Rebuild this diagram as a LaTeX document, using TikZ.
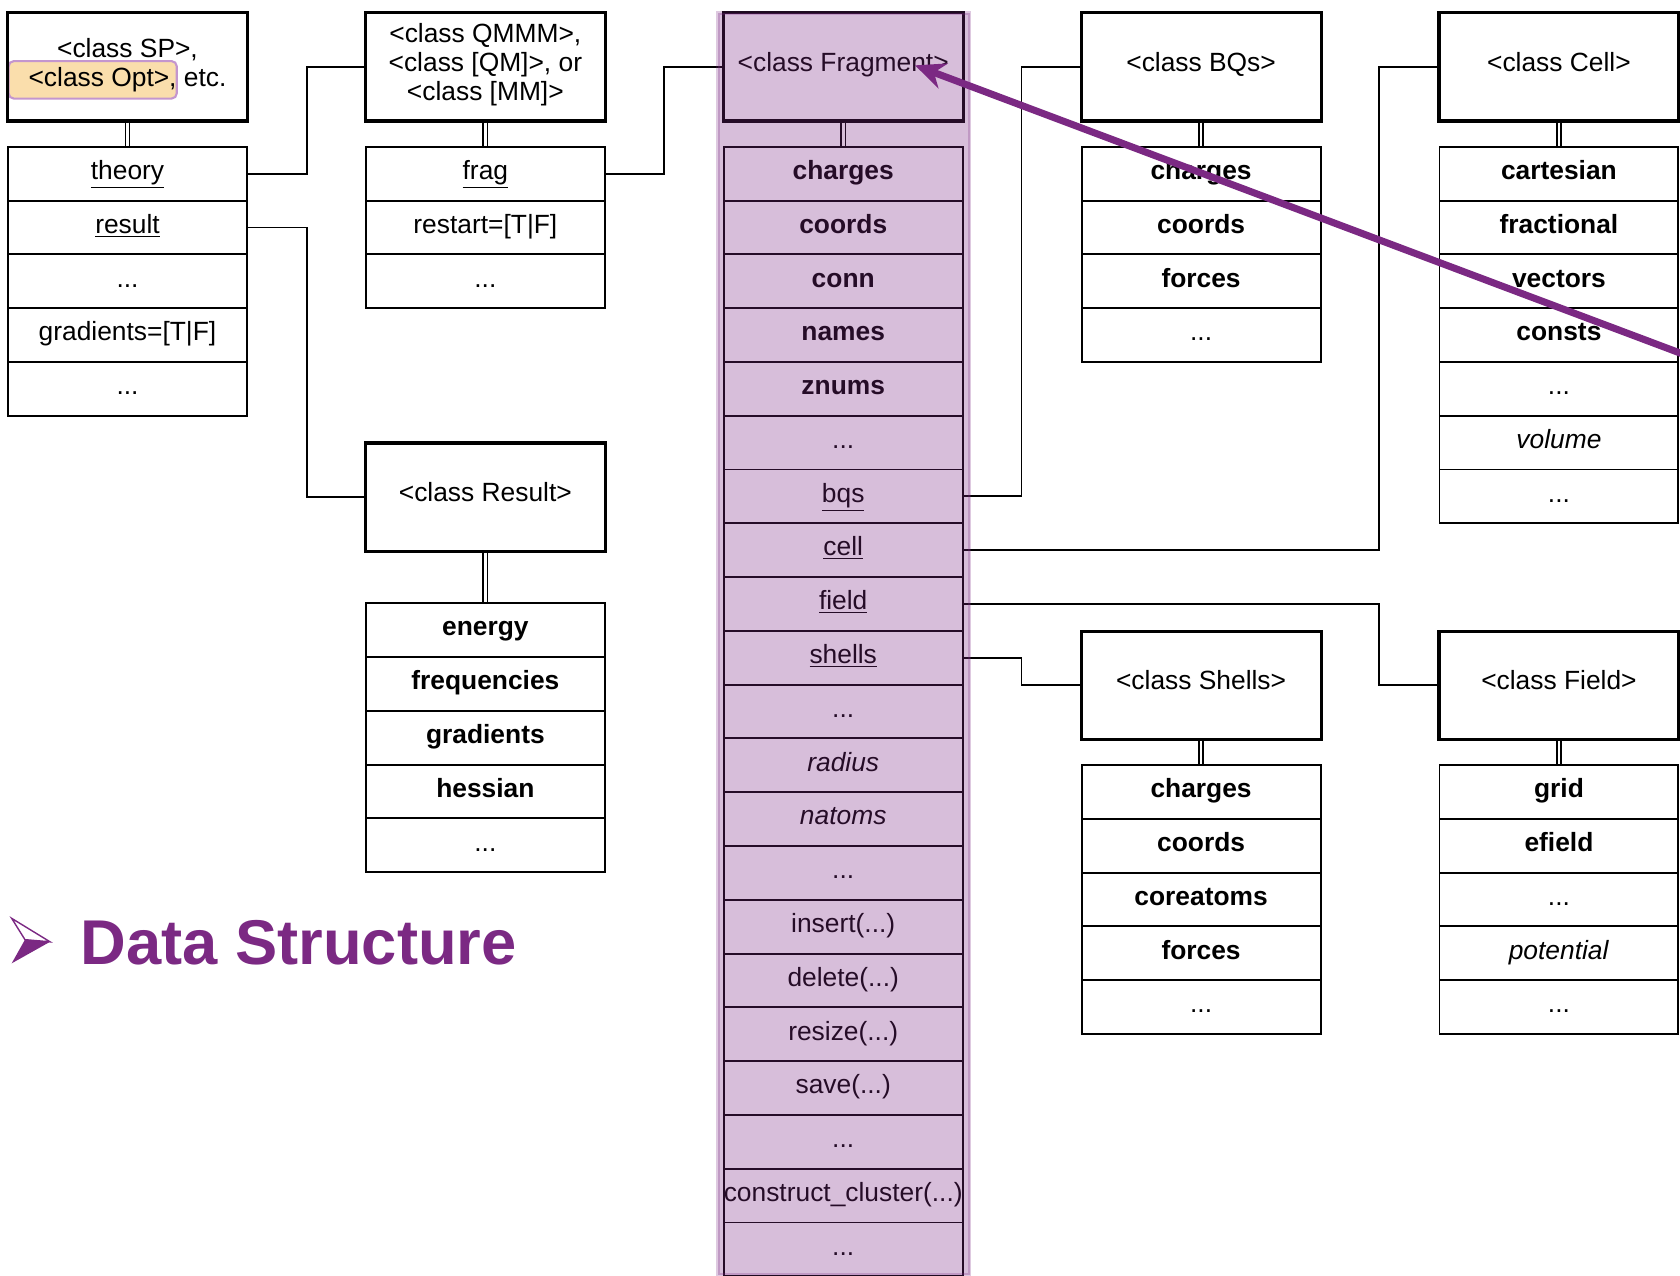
\documentclass[tikz,border=0pt]{standalone}
\usepackage{fontspec}
\setmainfont{Liberation Sans}
\usetikzlibrary{positioning, arrows.meta}

\definecolor{plum}{RGB}{123,41,131}
\definecolor{optfill}{RGB}{250,222,172}
\definecolor{optline}{RGB}{196,150,206}

\def\pxu{0.021428cm}
\newcommand{\dotz}{...}

% one column of attribute rows below a class header
\newcommand{\classrows}[4]{%
  \foreach \txt [count=\i] in {#4}
    \node[attr] (#1-\i) at (#2, {#3+25.1+(\i-1)*50.2}) {\txt};
}

\tikzset{
  hdr/.style={draw, line width=1.8pt, minimum width={224*\pxu}, minimum height={101*\pxu},
    align=center, inner sep=1pt, text depth=5.6pt, font=\fontsize{15}{16.6}\selectfont},
  attr/.style={draw, line width=1.1pt, minimum width={223*\pxu}, minimum height={50.2*\pxu},
    inner sep=0pt, text height=10pt, text depth=3.4pt, font=\fontsize{15}{18}\selectfont},
  dbl/.style={draw, line width=0.9pt, double distance=1.6pt},
  link/.style={draw, line width=1.1pt},
  hilite/.style={fill=plum, fill opacity=0.3, draw=plum, draw opacity=0.25, line width=2pt},
  optmark/.style={fill=optfill, draw=optline, line width=1.2pt, rounded corners=3pt},
  pointer/.style={draw=plum, line width=4pt, -{Stealth[length=17pt, width=15pt]}},
}

\begin{document}
\begin{tikzpicture}[x=\pxu, y=-\pxu]
\useasboundingbox (0,0) rectangle (1568,1190);

\draw[optmark] (8,57) rectangle (165,92);

% class headers
\node[hdr] (sp) at (119,62.5) {<class SP>,\\ <class Opt>, etc.};
\node[hdr] (qmmm) at (453,62.5) {<class QMMM>,\\<class [QM]>, or\\<class [MM]>};
\node[hdr] (frag) at (787,62.5) {<class Fragment>};
\node[hdr] (bqs) at (1121,62.5) {<class BQs>};
\node[hdr] (cell) at (1455,62.5) {<class Cell>};
\node[hdr] (res) at (453,464) {<class Result>};
\node[hdr] (shells) at (1121,639.5) {<class Shells>};
\node[hdr] (field) at (1455,639.5) {<class Field>};

% attributes and methods
\classrows{sp}{119}{137}{\underline{theory}, \underline{result}, \dotz, gradients=[T|F], \dotz}
\classrows{qm}{453}{137}{\underline{frag}, restart=[T|F], \dotz}
\classrows{fr}{787}{137}{\textbf{charges}, \textbf{coords}, \textbf{conn}, \textbf{names},
  \textbf{znums}, \dotz, \underline{bqs}, \underline{cell}, \underline{field}, \underline{shells},
  \dotz, \textit{radius}, \textit{natoms}, \dotz, insert(\dotz), delete(\dotz), resize(\dotz),
  save(\dotz), \dotz, construct\_cluster(\dotz), \dotz}
\classrows{bq}{1121}{137}{\textbf{charges}, \textbf{coords}, \textbf{forces}, \dotz}
\classrows{ce}{1455}{137}{\textbf{cartesian}, \textbf{fractional}, \textbf{vectors},
  \textbf{consts}, \dotz, \textit{volume}, \dotz}
\classrows{rs}{453}{563}{\textbf{energy}, \textbf{frequencies}, \textbf{gradients},
  \textbf{hessian}, \dotz}
\classrows{sh}{1121}{714}{\textbf{charges}, \textbf{coords}, \textbf{coreatoms},
  \textbf{forces}, \dotz}
\classrows{fi}{1455}{714}{\textbf{grid}, \textbf{efield}, \dotz, \textit{potential}, \dotz}

% header to attribute list
\draw[dbl] (sp.south) -- (sp-1.north);
\draw[dbl] (qmmm.south) -- (qm-1.north);
\draw[dbl] (frag.south) -- (fr-1.north);
\draw[dbl] (bqs.south) -- (bq-1.north);
\draw[dbl] (cell.south) -- (ce-1.north);
\draw[dbl] (res.south) -- (rs-1.north);
\draw[dbl] (shells.south) -- (sh-1.north);
\draw[dbl] (field.south) -- (fi-1.north);

% references between classes
\draw[link] (sp-1.east) -- ++(55,0) |- (qmmm.west);
\draw[link] (sp-2.east) -- ++(55,0) |- (res.west);
\draw[link] (qm-1.east) -- ++(54,0) |- (frag.west);
\draw[link] (fr-7.east) -- ++(54,0) |- (bqs.west);
\draw[link] (fr-8.east) -- ++(388,0) |- (cell.west);
\draw[link] (fr-9.east) -- ++(388,0) |- (field.west);
\draw[link] (fr-10.east) -- ++(54,0) |- (shells.west);

% highlighted Fragment column
\draw[hilite] (670,12) rectangle (905,1190);

\coordinate (ptrtail) at (1600,341.5);
\coordinate (ptrtip) at (854,61);
\draw[pointer] (ptrtail) -- (ptrtip);

% bullet and title
\draw[plum, line width=0.8pt, line join=miter] (10.9,857.1) -- (46.7,879) -- (23.3,877) -- cycle;
\fill[plum] (23.3,877) -- (46.7,879) -- (10.9,899.1) -- cycle;
\node[anchor=base west, inner sep=0pt, text=plum, font=\bfseries\fontsize{36}{36}\selectfont]
  (title) at (75,900) {Data Structure};
\end{tikzpicture}
\end{document}
